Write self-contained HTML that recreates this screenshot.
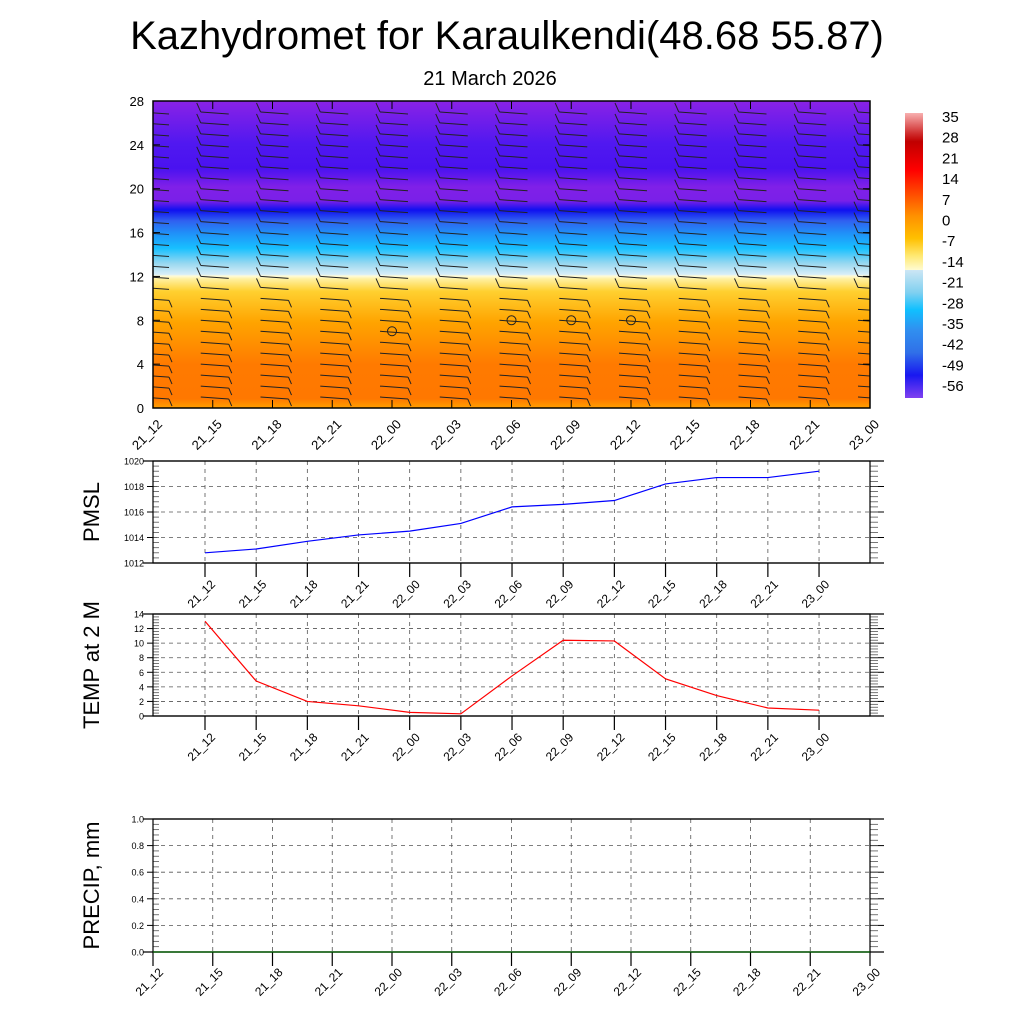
<!DOCTYPE html>
<html><head><meta charset="utf-8"><style>
body{margin:0;background:#fff;}
svg{display:block;font-family:"Liberation Sans",sans-serif;}
</style></head><body>
<svg id="chart" width="1024" height="1024" viewBox="0 0 1024 1024">
<defs>
<clipPath id="plotclip"><rect x="153" y="101" width="717" height="307"/></clipPath>
<linearGradient id="field" x1="0" y1="1" x2="0" y2="0">
<stop offset="0" stop-color="#ffa000"/>
<stop offset="0.03" stop-color="#ff7800"/>
<stop offset="0.14" stop-color="#ff7a00"/>
<stop offset="0.28" stop-color="#ffa400"/>
<stop offset="0.38" stop-color="#ffd030"/>
<stop offset="0.42" stop-color="#fff0a0"/>
<stop offset="0.43" stop-color="#fffbd8"/>
<stop offset="0.435" stop-color="#d8eef8"/>
<stop offset="0.47" stop-color="#9ad8f0"/>
<stop offset="0.52" stop-color="#18c0ff"/>
<stop offset="0.57" stop-color="#2090f8"/>
<stop offset="0.61" stop-color="#3060f0"/>
<stop offset="0.645" stop-color="#1010f0"/>
<stop offset="0.675" stop-color="#7a20e8"/>
<stop offset="0.72" stop-color="#8020e8"/>
<stop offset="0.78" stop-color="#4a12f0"/>
<stop offset="0.86" stop-color="#5018f0"/>
<stop offset="1" stop-color="#8a22e6"/>
</linearGradient>
<linearGradient id="cbar" x1="0" y1="0" x2="0" y2="1">
<stop offset="0" stop-color="#f8b0b0"/>
<stop offset="0.07" stop-color="#d03030"/>
<stop offset="0.1" stop-color="#c00000"/>
<stop offset="0.2" stop-color="#ff0000"/>
<stop offset="0.28" stop-color="#ff4800"/>
<stop offset="0.36" stop-color="#ff9000"/>
<stop offset="0.44" stop-color="#ffc000"/>
<stop offset="0.5" stop-color="#ffe870"/>
<stop offset="0.55" stop-color="#fffbd0"/>
<stop offset="0.551" stop-color="#cce6f4"/>
<stop offset="0.63" stop-color="#80d0f0"/>
<stop offset="0.69" stop-color="#10c0ff"/>
<stop offset="0.76" stop-color="#3090f0"/>
<stop offset="0.84" stop-color="#3070e8"/>
<stop offset="0.92" stop-color="#1818f0"/>
<stop offset="1" stop-color="#8040f0"/>
</linearGradient>
</defs>
<text x="507" y="49" font-size="40" text-anchor="middle">Kazhydromet for Karaulkendi(48.68 55.87)</text>
<text x="490" y="85" font-size="20" text-anchor="middle">21 March 2026</text>
<rect x="153" y="101" width="717" height="307" fill="url(#field)"/>
<g id="barbs" clip-path="url(#plotclip)"></g>
<rect x="153" y="101" width="717" height="307" fill="none" stroke="#000" stroke-width="1.5"/>
<g id="topaxes"></g>
<rect x="905" y="113" width="18" height="285" fill="url(#cbar)"/>
<g id="cbarlabels"></g>
<g id="pmsl"></g>
<g id="temp"></g>
<g id="precip"></g>
</svg>
<script>
const times = ["21_12","21_15","21_18","21_21","22_00","22_03","22_06","22_09","22_12","22_15","22_18","22_21","23_00"];
const pmslValues = [1012.8,1013.1,1013.7,1014.2,1014.5,1015.1,1016.4,1016.6,1016.9,1018.2,1018.7,1018.7,1019.2];
const tempValues = [13.0,4.8,2.0,1.4,0.5,0.3,5.5,10.4,10.3,5.1,2.8,1.1,0.8];
const precipValues = [0,0,0,0,0,0,0,0,0,0,0,0,0];
const heightTicks = [0,4,8,12,16,20,24,28];
const cbarLabels = ["35","28","21","14","7","0","-7","-14","-21","-28","-35","-42","-49","-56"];
const pmslTicks = [1012,1014,1016,1018,1020];
const tempTicks = [0,2,4,6,8,10,12,14];
const precipTicks = [0,0.2,0.4,0.6,0.8,1.0];
const calmPoints = [[4,7],[6,8],[7,8],[8,8]];

const NS="http://www.w3.org/2000/svg";
function mk(parent,tag,attrs){const e=document.createElementNS(NS,tag);for(const k in attrs)e.setAttribute(k,attrs[k]);parent.appendChild(e);return e;}

const topX=i=>153+i*(717/12);
const topY=v=>408-(v/28)*307;
const barbs=document.getElementById('barbs');
for(let i=0;i<times.length;i++){
  for(let h=1;h<=27;h++){
    const x=topX(i), y=topY(h);
    const g=mk(barbs,'g',{stroke:'#222','stroke-width':'1',fill:'none'});
    
    
    const x0=x-12, x1=x+16;
    mk(g,'line',{x1:x0,y1:y,x2:x1,y2:y+2});
    if(h>=11) mk(g,'line',{x1:x0,y1:y,x2:x0-4,y2:y-9});
    else mk(g,'line',{x1:x1,y1:y+2,x2:x1+3,y2:y+9});
  }
}
calmPoints.forEach(p=>{
  const c=mk(barbs,'circle',{cx:topX(p[0]),cy:topY(p[1]),r:4.5,fill:'none',stroke:'#222'});
  
  
});
const ta=document.getElementById('topaxes');
heightTicks.forEach(v=>{
  const t=mk(ta,'text',{x:144,y:topY(v)+5,'font-size':13,'text-anchor':'end'});t.textContent=v;
  
  
  mk(ta,'line',{x1:153,y1:topY(v),x2:160,y2:topY(v),stroke:'#000'});
  mk(ta,'line',{x1:870,y1:topY(v),x2:863,y2:topY(v),stroke:'#000'});
});
times.forEach((lab,i)=>{
  const x=topX(i);
  mk(ta,'line',{x1:x,y1:101,x2:x,y2:109,stroke:'#000'});
  mk(ta,'line',{x1:x,y1:408,x2:x,y2:400,stroke:'#000'});
  const t=mk(ta,'text',{x:0,y:0,'font-size':13,'text-anchor':'end',transform:`translate(${x+10},${425}) rotate(-45)`});t.textContent=lab;
  
  
});
const cl=document.getElementById('cbarlabels');
cbarLabels.forEach((l,i)=>{
  const t=mk(cl,'text',{x:942,y:122+i*20.7,'font-size':15});t.textContent=l;
  
  
});

function panel(gid,top,bot,ymin,ymax,ticks,vals,color,ylab,xstart,xstep,labelY,tickOut,fmt){
  const g=document.getElementById(gid);
  const L=153,R=870;
  const Y=v=>bot-(v-ymin)/(ymax-ymin)*(bot-top);
  const X=i=>xstart+i*xstep;
  ticks.forEach(v=>{
    if(v!==ymin&&v!==ymax) mk(g,'line',{x1:L,y1:Y(v),x2:R,y2:Y(v),stroke:'#555','stroke-dasharray':'4,4','stroke-width':0.8});
    mk(g,'line',{x1:L-6,y1:Y(v),x2:L,y2:Y(v),stroke:'#000'});
    mk(g,'line',{x1:R,y1:Y(v),x2:R+14,y2:Y(v),stroke:'#000'});
    const t=mk(g,'text',{x:L-9,y:Y(v)+3.5,'font-size':9,'text-anchor':'end'});t.textContent=fmt(v);
    
    
  });
  const minor=(bot-top)/((ticks.length-1)*5);
  for(let k=0;k<=(ticks.length-1)*5;k++){
    const yy=top+k*minor;
    mk(g,'line',{x1:L,y1:yy,x2:L+6,y2:yy,stroke:'#555','stroke-width':0.8});
    mk(g,'line',{x1:R,y1:yy,x2:R+8,y2:yy,stroke:'#555','stroke-width':0.8});
  }
  times.forEach((lab,i)=>{
    const x=X(i);
    if(x>L+2&&x<R-2) mk(g,'line',{x1:x,y1:top,x2:x,y2:bot,stroke:'#555','stroke-dasharray':'4,4','stroke-width':0.8});
    mk(g,'line',{x1:x,y1:bot,x2:x,y2:bot+tickOut,stroke:'#000','stroke-width':1.2});
    const t=mk(g,'text',{x:0,y:0,'font-size':12,'text-anchor':'end',transform:`translate(${x+11},${labelY}) rotate(-45)`});t.textContent=lab;
    
    
  });
  const fr=mk(g,'rect',{x:L,y:top,width:R-L,height:bot-top,fill:'none',stroke:'#000','stroke-width':1.2});
  
  
  mk(g,'line',{x1:L-10,y1:top,x2:R+14,y2:top,stroke:'#000','stroke-width':1.2});
  mk(g,'line',{x1:L-10,y1:bot,x2:R+14,y2:bot,stroke:'#000','stroke-width':1.2});
  const pts=vals.map((v,i)=>`${X(i)},${Y(v)}`).join(' ');
  const pl=mk(g,'polyline',{points:pts,fill:'none',stroke:color,'stroke-width':1.2});
  
  
  const t=mk(g,'text',{x:0,y:0,'font-size':22,'text-anchor':'middle',transform:`translate(99,${(top+bot)/2}) rotate(-90)`});t.textContent=ylab;
  
  
}
panel('pmsl',461,563,1012,1020,pmslTicks,pmslValues,'#0000ff','PMSL',205,51.17,585,14,v=>v);
panel('temp',614,716,0,14,tempTicks,tempValues,'#ff0000','TEMP at 2 M',205,51.17,738,14,v=>v);
panel('precip',819,952,0,1,precipTicks,precipValues,'#006400','PRECIP, mm',153,717/12,973,14,v=>v.toFixed(1));
</script>
</body></html>
